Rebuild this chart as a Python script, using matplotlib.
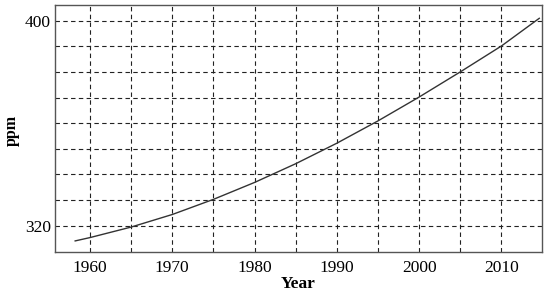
import matplotlib
matplotlib.use("Agg")
import matplotlib.pyplot as plt
from matplotlib.ticker import FixedLocator

# values
years = [1958.2, 1960, 1965, 1970, 1975, 1980, 1985, 1990, 1995, 2000, 2005, 2010, 2014.6]
ppm = [314.1, 315.4, 319.5, 324.4, 330.3, 336.9, 344.2, 352.2, 360.9, 370.2, 380.0, 390.1, 400.9]

xticks = [1960, 1970, 1980, 1990, 2000, 2010]
yticks = [320, 400]
xgrid = [1960, 1965, 1970, 1975, 1980, 1985, 1990, 1995, 2000, 2005, 2010]
ygrid = [320, 330, 340, 350, 360, 370, 380, 390, 400]

plt.rcParams['font.family'] = ['Liberation Serif', 'DejaVu Serif']

fig = plt.figure(figsize=(5.5, 2.96), dpi=100)
ax = fig.add_axes([0.1, 0.1497, 0.885, 0.8344])

ax.plot(years, ppm, color='#333333', lw=1.0)

ax.set_xlim(1955.75, 2014.9)
ax.set_ylim(309.9, 406.2)

ax.set_xticks(xticks)
ax.set_yticks(yticks)
ax.xaxis.set_minor_locator(FixedLocator(xgrid))
ax.yaxis.set_minor_locator(FixedLocator(ygrid))
ax.tick_params(which='both', length=0, labelsize=12.5)
ax.tick_params(axis='x', pad=6)
ax.tick_params(axis='y', pad=3)

ax.grid(which='both', color='#222222', ls=(0, (4, 3)), lw=0.8)

for s in ax.spines.values():
    s.set_color('#555555')
    s.set_linewidth(1.0)

ax.set_xlabel('Year', fontsize=12.5, fontweight='bold')
ax.set_ylabel('ppm', fontsize=11.5, fontweight='bold')
ax.xaxis.set_label_coords(0.5, -0.1)
ax.yaxis.set_label_coords(-0.073, 0.49)

plt.savefig('out.png', dpi=100)
